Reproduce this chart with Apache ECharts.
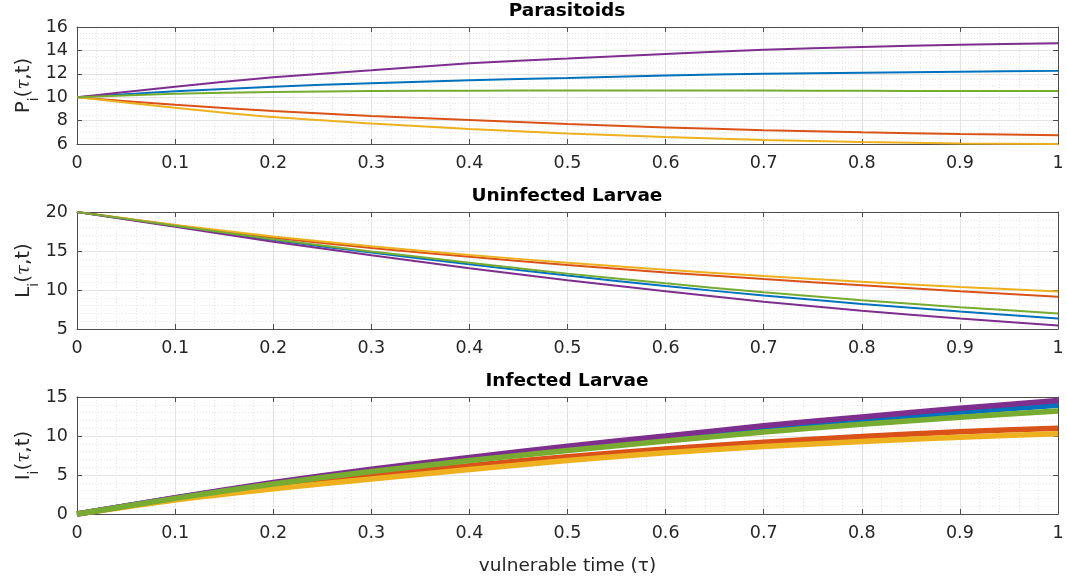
<!DOCTYPE html>
<html>
<head>
<meta charset="utf-8">
<script src="https://cdn.jsdelivr.net/npm/echarts@6/dist/echarts.min.js"></script>
<style>
  html, body { margin: 0; padding: 0; background: #fff; }
  #chart { width: 1067px; height: 584px; }
</style>
</head>
<body>
<div id="chart"></div>
<script>
// vulnerable time samples
const taus = [0, 0.1, 0.2, 0.3, 0.4, 0.5, 0.6, 0.7, 0.8, 0.9, 1];
const xTicks = ["0", "0.1", "0.2", "0.3", "0.4", "0.5", "0.6", "0.7", "0.8", "0.9", "1"];

// Parasitoids P_i
const pBlue = [10, 10.5, 10.9, 11.2, 11.45, 11.65, 11.85, 12.0, 12.1, 12.18, 12.25];
const pRed = [10, 9.35, 8.82, 8.4, 8.05, 7.7, 7.42, 7.18, 7.0, 6.85, 6.75];
const pYellow = [10, 9.1, 8.3, 7.75, 7.28, 6.9, 6.6, 6.35, 6.17, 6.05, 6.0];
const pPurple = [10, 10.9, 11.7, 12.3, 12.9, 13.3, 13.7, 14.05, 14.3, 14.48, 14.62];
const pGreen = [10, 10.3, 10.45, 10.52, 10.56, 10.58, 10.58, 10.57, 10.55, 10.53, 10.52];

// Uninfected larvae L_i
const lBlue = [20, 18.2, 16.4, 14.8, 13.3, 11.85, 10.5, 9.3, 8.2, 7.25, 6.35];
const lRed = [20, 18.3, 16.7, 15.4, 14.25, 13.2, 12.25, 11.4, 10.6, 9.85, 9.15];
const lYellow = [20, 18.35, 16.85, 15.6, 14.5, 13.5, 12.6, 11.8, 11.05, 10.4, 9.8];
const lPurple = [20, 18.1, 16.2, 14.45, 12.8, 11.25, 9.85, 8.5, 7.35, 6.35, 5.45];
const lGreen = [20, 18.25, 16.5, 14.95, 13.5, 12.1, 10.85, 9.7, 8.7, 7.8, 7.0];

// Infected larvae I_i
const iBlue = [0, 2.05, 3.95, 5.6, 7.05, 8.45, 9.75, 10.95, 12.05, 13.05, 13.95];
const iRed = [0, 1.9, 3.5, 4.9, 6.2, 7.35, 8.35, 9.2, 9.95, 10.55, 11.0];
const iYellow = [0, 1.8, 3.25, 4.5, 5.7, 6.85, 7.85, 8.65, 9.3, 9.85, 10.3];
const iPurple = [0, 2.1, 4.05, 5.75, 7.25, 8.7, 10.0, 11.3, 12.45, 13.55, 14.55];
const iGreen = [0, 2.0, 3.85, 5.45, 6.85, 8.15, 9.35, 10.5, 11.5, 12.4, 13.2];

const titles = ["Parasitoids", "Uninfected Larvae", "Infected Larvae"];

// MATLAB default color order
const colors = ["#0072BD", "#D95319", "#EDB120", "#7E2F8E", "#77AC30"];

const chart = echarts.init(document.getElementById("chart"));

const FONT = "'DejaVu Sans', sans-serif";
const textColor = "#262626";
const boxColor = "#4d4d4d";

const panels = [
  { top: 27, yMin: 6, yMax: 16, yStep: 2, ySplit: 4, sym: "P", lines: [pBlue, pRed, pYellow, pPurple, pGreen], width: 2 },
  { top: 212, yMin: 5, yMax: 20, yStep: 5, ySplit: 5, sym: "L", lines: [lBlue, lRed, lYellow, lPurple, lGreen], width: 2 },
  { top: 397, yMin: 0, yMax: 15, yStep: 5, ySplit: 5, sym: "I", lines: [iBlue, iRed, iYellow, iPurple, iGreen], width: 5.5 },
];

const grid = [];
const xAxis = [];
const yAxis = [];
const series = [];
const title = [];

const tickFmt = (v) => xTicks[Math.round(v * 10)] ?? String(v);

panels.forEach((p, g) => {
  grid.push({ left: 77, right: 9, top: p.top, height: 117 });

  title.push({
    text: titles[g],
    left: 567,
    top: p.top - 25,
    padding: 0,
    textAlign: "center",
    textStyle: { fontFamily: FONT, fontSize: 18.5, fontWeight: "bold", color: "#000" },
  });

  // bottom x axis with labels and grid
  xAxis.push({
    type: "value",
    gridIndex: g,
    min: 0,
    max: 1,
    interval: 0.1,
    axisLine: { show: true, onZero: false, lineStyle: { color: boxColor } },
    axisTick: { show: true, inside: true, length: 5, lineStyle: { color: boxColor } },
    axisLabel: { color: textColor, fontFamily: FONT, fontSize: 17.5, margin: 10, formatter: tickFmt },
    splitLine: { show: true, lineStyle: { color: "#e3e3e3", width: 1 } },
    minorTick: { show: false, splitNumber: 5 },
    minorSplitLine: { show: true, lineStyle: { color: "#e6e6e6", type: [1, 2], width: 1 } },
    name: g === 2 ? "vulnerable time (τ)" : "",
    nameLocation: "middle",
    nameGap: 43,
    nameMoveOverlap: false,
    nameTextStyle: { color: textColor, fontFamily: FONT, fontSize: 18.5 },
  });
  // top x axis for the box + ticks
  xAxis.push({
    type: "value",
    gridIndex: g,
    position: "top",
    min: 0,
    max: 1,
    interval: 0.1,
    axisLine: { show: true, onZero: false, lineStyle: { color: boxColor } },
    axisTick: { show: true, inside: true, length: 5, lineStyle: { color: boxColor } },
    axisLabel: { show: false },
    splitLine: { show: false },
  });

  yAxis.push({
    type: "value",
    gridIndex: g,
    min: p.yMin,
    max: p.yMax,
    interval: p.yStep,
    axisLine: { show: true, onZero: false, lineStyle: { color: boxColor } },
    axisTick: { show: true, inside: true, length: 5, lineStyle: { color: boxColor } },
    axisLabel: { color: textColor, fontFamily: FONT, fontSize: 17.5, margin: 9 },
    splitLine: { show: true, lineStyle: { color: "#e3e3e3", width: 1 } },
    minorTick: { show: false, splitNumber: p.ySplit },
    minorSplitLine: { show: true, lineStyle: { color: "#e6e6e6", type: [1, 2], width: 1 } },
    name: "{n|" + p.sym + "}{s|i}{n|(}{t|τ}{n|,t)}",
    nameLocation: "middle",
    nameRotate: 90,
    nameGap: 36,
    nameMoveOverlap: false,
    nameTextStyle: {
      rich: {
        n: { fontFamily: FONT, fontSize: 20, color: textColor, lineHeight: 22 },
        s: { fontFamily: FONT, fontSize: 14, color: textColor, lineHeight: 34, verticalAlign: "bottom" },
        t: { fontFamily: "'DejaVu Serif', serif", fontStyle: "italic", fontSize: 18, color: textColor, lineHeight: 22 },
      },
    },
  });
  yAxis.push({
    type: "value",
    gridIndex: g,
    position: "right",
    min: p.yMin,
    max: p.yMax,
    interval: p.yStep,
    axisLine: { show: true, onZero: false, lineStyle: { color: boxColor } },
    axisTick: { show: true, inside: true, length: 5, lineStyle: { color: boxColor } },
    axisLabel: { show: false },
    splitLine: { show: false },
  });

  p.lines.forEach((vals, k) => {
    series.push({
      type: "line",
      xAxisIndex: g * 2,
      yAxisIndex: g * 2,
      data: taus.map((t, i) => [t, vals[i]]),
      smooth: 0.25,
      showSymbol: false,
      silent: true,
      lineStyle: { color: colors[k], width: p.width },
      itemStyle: { color: colors[k] },
      z: 3,
    });
  });
});

chart.setOption({
  backgroundColor: "#fff",
  animation: false,
  title: title,
  grid: grid,
  xAxis: xAxis,
  yAxis: yAxis,
  series: series,
});
</script>
</body>
</html>
